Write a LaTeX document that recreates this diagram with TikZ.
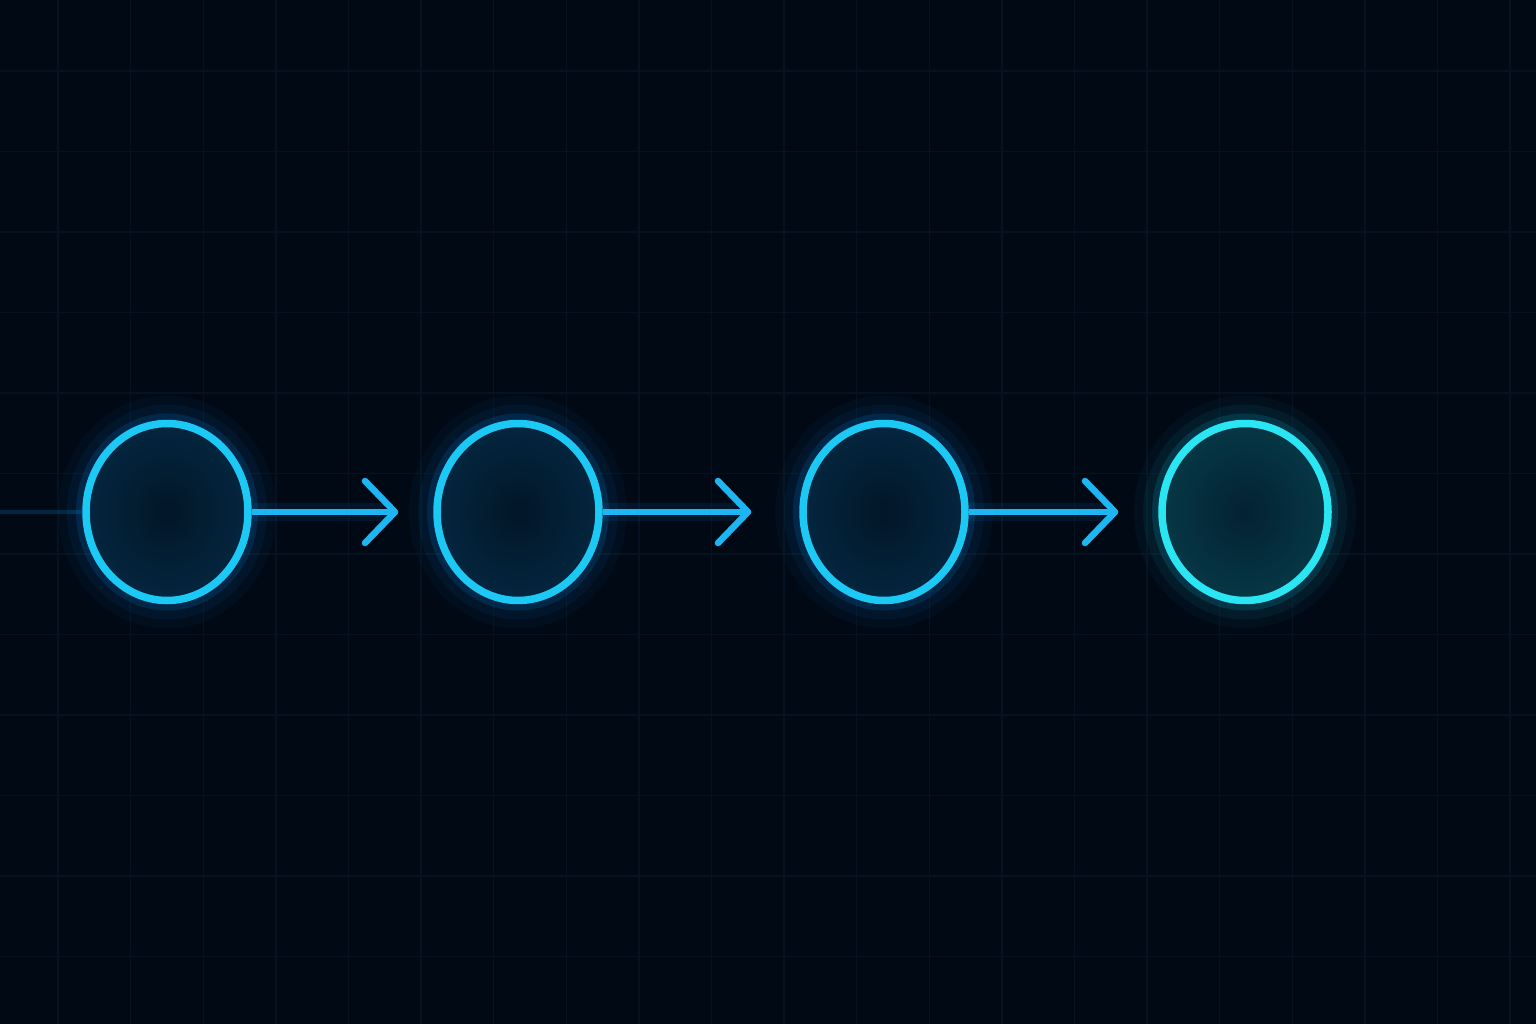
\documentclass[tikz,border=0pt]{standalone}
\usepackage{tikz}
\usetikzlibrary{arrows.meta,shapes.geometric}

\definecolor{bgnavy}{HTML}{010915}
\definecolor{gridblue}{HTML}{06121F}
\definecolor{ringcyan}{HTML}{1CC8F4}
\definecolor{glowblue}{HTML}{0A8AE6}
\definecolor{innerdark}{HTML}{021627}
\definecolor{inneredge}{HTML}{04263F}
\definecolor{endcyan}{HTML}{2AE6F2}
\definecolor{endglow}{HTML}{10BCE0}
\definecolor{endinner}{HTML}{032232}
\definecolor{endedge}{HTML}{063746}
\definecolor{flowblue}{HTML}{1DB6F2}

\tikzset{
  gridline/.style={draw=gridblue, line width=1.4pt},
  stage/.style n args={4}{ellipse, draw=#1, line width=7.5pt,
    minimum width=162pt, minimum height=177pt, inner sep=0pt,
    shading=radial, inner color=#3, outer color=#4,
    preaction={draw=#2, line width=56pt, draw opacity=0.04},
    preaction={draw=#2, line width=38pt, draw opacity=0.07},
    preaction={draw=#2, line width=20pt, draw opacity=0.16}},
  flow/.style={draw=flowblue, line width=6.5pt,
    -{Straight Barb[length=30pt, width=62pt, round]}},
  flowglow/.style={draw=glowblue, line width=18pt, draw opacity=0.10},
  lead/.style={draw=glowblue, line width=4pt, draw opacity=0.22}
}

\begin{document}
\begin{tikzpicture}[x=1pt, y=-1pt]
  \fill[bgnavy] (0,0) rectangle (1536,1024);
  \useasboundingbox (0,0) rectangle (1536,1024);

  % faint grid
  \foreach \gx in {0,...,20}
    \draw[gridline] ({58+72.6*\gx},0) -- ({58+72.6*\gx},1024);
  \foreach \gy in {0,...,11}
    \draw[gridline] (0,{71+80.5*\gy}) -- (1536,{71+80.5*\gy});

  \coordinate (in) at (0,512);

  \node[stage={ringcyan}{glowblue}{innerdark}{inneredge}] (s1) at (167,512) {};
  \node[stage={ringcyan}{glowblue}{innerdark}{inneredge}] (s2) at (518,512) {};
  \node[stage={ringcyan}{glowblue}{innerdark}{inneredge}] (s3) at (884,512) {};
  \node[stage={endcyan}{endglow}{endinner}{endedge}, minimum width=166pt] (s4) at (1245,512) {};

  \draw[lead] (in) -- (s1.west);
  \path (s1.east) edge[flowglow, shorten >=40pt] (s2.west)
        (s2.east) edge[flowglow, shorten >=53pt] (s3.west)
        (s3.east) edge[flowglow, shorten >=45pt] (s4.west);
  \path (s1.east) edge[flow, shorten >=35pt] (s2.west);
  \path (s2.east) edge[flow, shorten >=48pt] (s3.west);
  \path (s3.east) edge[flow, shorten >=40pt] (s4.west);
\end{tikzpicture}
\end{document}
